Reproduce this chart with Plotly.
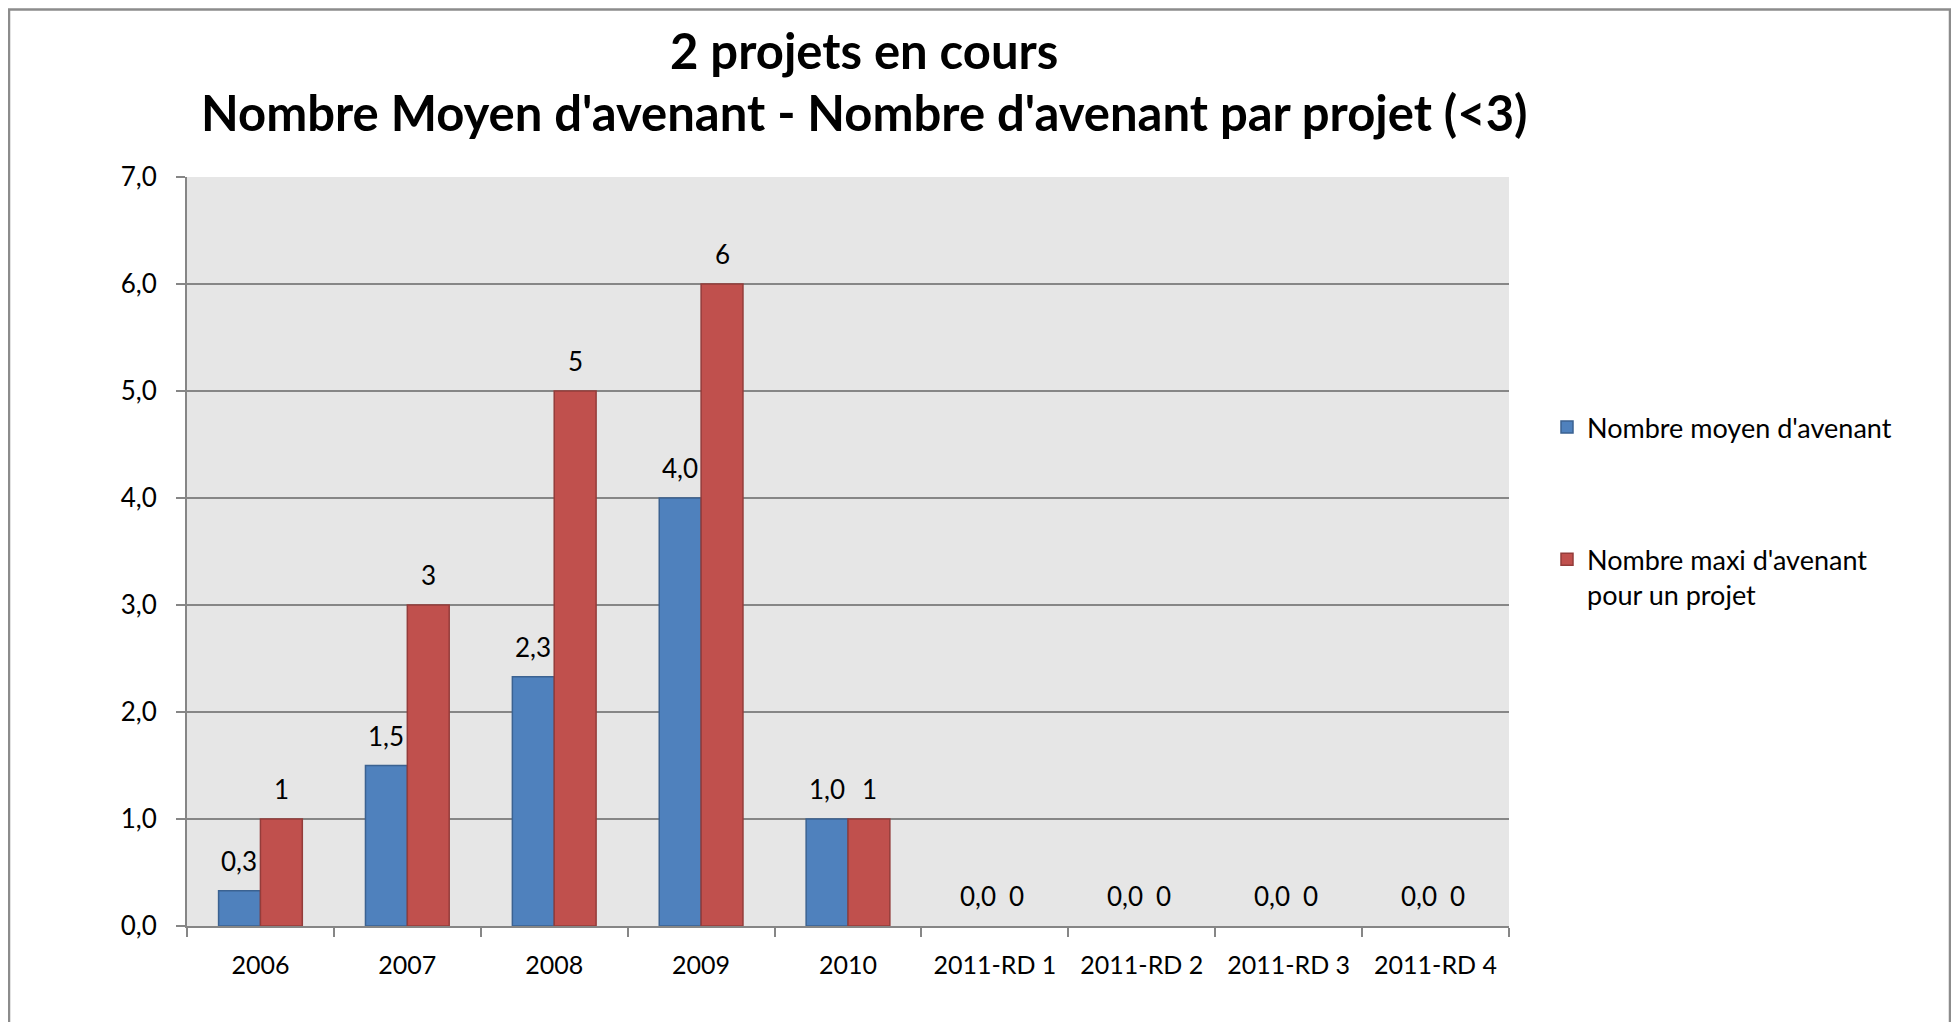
import plotly.graph_objects as go

categories = ["2006", "2007", "2008", "2009", "2010", "2011-RD 1", "2011-RD 2", "2011-RD 3", "2011-RD 4"]
moyen = [0.33, 1.5, 2.33, 4.0, 1.0, 0.0, 0.0, 0.0, 0.0]
maxi = [1, 3, 5, 6, 1, 0, 0, 0, 0]
series_names = ["Nombre moyen d'avenant", "Nombre maxi d'avenant<br>pour un projet"]
title_lines = ["2 projets en cours", "Nombre Moyen d'avenant - Nombre d'avenant par projet (<3)"]

FONT = "Lato, Carlito, Calibri, 'Open Sans', sans-serif"
GRID = "#868686"

# page body has an 8px margin: lay out in page pixels minus 8
OFF = 8
W, H = 1959 - OFF, 1030 - 2 * OFF
L, R, T, B = 187 - OFF, 1509 - OFF, 177 - OFF, 926 - OFF
pw = R - L
ph = B - T


def px(x):
    return (x - OFF - L) / pw


def py(y):
    return (B - (y - OFF)) / ph


fig = go.Figure()
fig.add_trace(go.Bar(
    x=categories, y=moyen, name=series_names[0], legendgroup="a",
    marker=dict(color="#4F81BD",
                line=dict(color="#3B6291", width=[1.5 if v > 0 else 0 for v in moyen])),
))
fig.add_trace(go.Bar(
    x=categories, y=maxi, name=series_names[1], legendgroup="b",
    marker=dict(color="#C0504D",
                line=dict(color="#943C3A", width=[1.5 if v > 0 else 0 for v in maxi])),
))

annotations = []
for i, v in enumerate(moyen):
    annotations.append(dict(x=i, y=v, xref="x", yref="y", text=f"{v:.1f}".replace(".", ","),
                            showarrow=False, xshift=-21 if v > 0 else -17, yshift=12, yanchor="bottom",
                            font=dict(family=FONT, size=26, color="black")))
for i, v in enumerate(maxi):
    annotations.append(dict(x=i, y=v, xref="x", yref="y", text=f"{v:.0f}",
                            showarrow=False, xshift=21 if v > 0 else 22, yshift=12, yanchor="bottom",
                            font=dict(family=FONT, size=26, color="black")))

# title lines
annotations.append(dict(x=px(864), y=py(50), xref="paper", yref="paper", text="<b>" + title_lines[0] + "</b>",
                        showarrow=False, xanchor="center", yanchor="middle",
                        font=dict(family=FONT, size=49, color="black")))
annotations.append(dict(x=px(864), y=py(112), xref="paper", yref="paper", text="<b>" + title_lines[1] + "</b>",
                        showarrow=False, xanchor="center", yanchor="middle",
                        font=dict(family=FONT, size=49, color="black")))

fig.update_layout(
    width=W, height=H,
    margin=dict(l=L, r=W - R, t=T, b=H - B, autoexpand=False),
    paper_bgcolor="white",
    plot_bgcolor="#E6E6E6",
    separators=", ",
    barmode="group",
    bargap=0.43,
    bargroupgap=0,
    font=dict(family=FONT, size=26, color="black"),
    showlegend=True,
    legend=dict(
        x=px(1547), xanchor="left",
        y=py(403), yanchor="top",
        font=dict(family=FONT, size=27, color="black"),
        bgcolor="rgba(0,0,0,0)",
        tracegroupgap=94,
        valign="top",
        traceorder="grouped",
    ),
    annotations=annotations,
    shapes=[dict(type="rect", xref="paper", yref="paper",
                 x0=px(9), x1=px(1950),
                 y0=py(1060), y1=py(9.5),
                 line=dict(color="#8C8C8C", width=2.5), fillcolor="rgba(0,0,0,0)", layer="below")],
)

fig.update_xaxes(
    type="category",
    range=[-0.5, len(categories) - 0.5],
    showgrid=False,
    showline=True, linecolor=GRID, linewidth=2,
    ticks="outside", tickson="boundaries", ticklen=9, tickwidth=1.5, tickcolor=GRID,
    ticklabelstandoff=16, tickangle=0,
    tickfont=dict(family=FONT, size=25, color="black"),
)
fig.update_yaxes(
    range=[0, 7], dtick=1, tick0=0, tickformat=".1f",
    showgrid=True, gridcolor=GRID, gridwidth=2,
    showline=True, linecolor=GRID, linewidth=2,
    zeroline=False,
    ticks="outside", ticklen=9, tickwidth=2, tickcolor=GRID,
    ticklabelstandoff=14,
    tickfont=dict(family=FONT, size=26, color="black"),
)

fig.write_html("out.html")
